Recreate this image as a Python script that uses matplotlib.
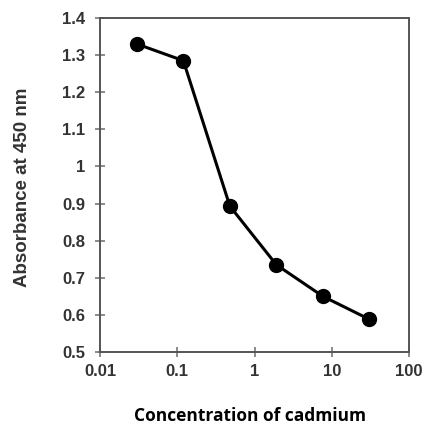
import numpy as np
import matplotlib.pyplot as plt

# data
conc = [0.03, 0.12, 0.48, 1.92, 7.68, 30.7]
absorbance = [1.33, 1.285, 0.893, 0.735, 0.65, 0.588]
yticks = [0.5, 0.6, 0.7, 0.8, 0.9, 1.0, 1.1, 1.2, 1.3, 1.4]
ytick_labels = ['0.5', '0.6', '0.7', '0.8', '0.9', '1', '1.1', '1.2', '1.3', '1.4']
xticks = [0.01, 0.1, 1, 10, 100]
xtick_labels = ['0.01', '0.1', '1', '10', '100']

fig = plt.figure(figsize=(4.47, 4.26), dpi=100)
ax = fig.add_axes([100 / 447, 1 - 352 / 426, 309 / 447, 334 / 426])

ax.plot(conc, absorbance, color='black', lw=2.2, marker='o', ms=10)
ax.set_xscale('log')
ax.set_xlim(0.01, 100)
ax.set_ylim(0.5, 1.4)

ax.set_xticks(xticks)
ax.set_xticklabels(xtick_labels)
ax.minorticks_off()
ax.set_yticks(yticks)
ax.set_yticklabels(ytick_labels)

for lab in ax.get_xticklabels() + ax.get_yticklabels():
    lab.set_fontfamily('Liberation Sans')
    lab.set_fontweight('bold')
    lab.set_fontsize(12)
    lab.set_color('#333333')

ax.tick_params(axis='both', direction='inout', length=7, width=1.2,
               color='#777777')
ax.tick_params(axis='y', pad=7)
ax.tick_params(axis='x', pad=5)
for s in ax.spines.values():
    s.set_color('#555555')
    s.set_linewidth(1.4)

ax.set_ylabel('Absorbance at 450 nm', fontfamily='Liberation Sans',
              fontweight='bold', fontsize=13.5, color='#333333')
ax.yaxis.set_label_coords(-(100 - 31) / 309, (352 - 187) / 334)
fig.text(250 / 447, 1 - 416 / 426, 'Concentration of cadmium',
         fontfamily='Open Sans', fontweight='bold', fontsize=12.5,
         ha='center', va='center', color='black')

fig.savefig('out.png', dpi=100)
